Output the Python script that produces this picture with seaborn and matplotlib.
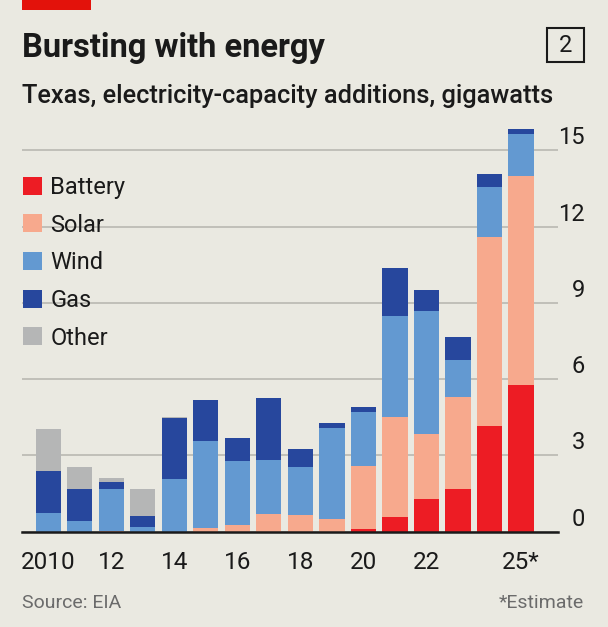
import matplotlib
matplotlib.use("Agg")
import matplotlib.pyplot as plt
from matplotlib.patches import Patch, Rectangle
from matplotlib.transforms import ScaledTranslation
import pandas as pd
import seaborn as sns

# Data (GW)
years = list(range(2010, 2026))
battery = [0, 0, 0, 0, 0, 0, 0, 0, 0, 0, 0.09, 0.56, 1.28, 1.66, 4.14, 5.76]
solar = [0, 0, 0.03, 0, 0, 0.13, 0.26, 0.68, 0.65, 0.50, 2.49, 3.96, 2.55, 3.65, 7.46, 8.22]
wind = [0.72, 0.43, 1.63, 0.19, 2.06, 3.42, 2.52, 2.12, 1.90, 3.59, 2.11, 3.96, 4.86, 1.44, 1.95, 1.67]
gas = [1.66, 1.24, 0.30, 0.41, 2.40, 1.62, 0.90, 2.44, 0.71, 0.18, 0.20, 1.88, 0.82, 0.92, 0.53, 0.20]
other = [1.66, 0.88, 0.15, 1.07, 0.06, 0, 0, 0, 0, 0, 0, 0, 0, 0, 0, 0]

sources = ["Battery", "Solar", "Wind", "Gas", "Other"]
colors = ["#ED1C24", "#F7A98D", "#6399D1", "#27479D", "#B5B6B6"]
xlabels = ["2010", "", "12", "", "14", "", "16", "", "18", "", "20", "", "22", "", "", "25*"]
yticks = [0, 3, 6, 9, 12, 15]

BG = "#EAE9E1"
INK = "#1A1A1A"

sns.set_style("white")
plt.rcParams["font.family"] = ["Roboto", "DejaVu Sans"]

df = pd.DataFrame({"year": years, "Battery": battery, "Solar": solar,
                   "Wind": wind, "Gas": gas, "Other": other})
# cumulative tops, so layers can be overdrawn from the tallest down
cum = df[sources].cumsum(axis=1)
cum["year"] = years

W, H = 608, 627
fig = plt.figure(figsize=(W / 100, H / 100), dpi=100, facecolor=BG)
ax = fig.add_axes([22 / W, 1 - 531.5 / H, (558 - 22) / W, (531.5 - 125) / H])
ax.set_facecolor(BG)

for src, col in reversed(list(zip(sources, colors))):
    sns.barplot(data=cum, x="year", y=src, color=col, native_scale=True,
                width=0.8, saturation=1, linewidth=0, errorbar=None,
                ax=ax, zorder=2)

ax.set_xlim(2010 - 0.83, 2026.17)
ax.set_ylim(0, 16)
ax.set_xlabel("")
ax.set_ylabel("")

# axes styling
for s in ["top", "left", "right"]:
    ax.spines[s].set_visible(False)
ax.spines["bottom"].set_color(INK)
ax.spines["bottom"].set_linewidth(1.8)
ax.spines["bottom"].set_zorder(3)

ax.set_xticks(years)
ax.set_xticklabels(xlabels)
ax.tick_params(axis="x", length=6, width=1.3, color=INK, pad=8,
               labelsize=17.5, labelcolor=INK, direction="out")

ax.set_yticks(yticks)
ax.set_yticklabels([])
ax.tick_params(axis="y", length=0)
ax.set_axisbelow(True)
ax.yaxis.grid(True, color="#B9B8B1", linewidth=1.2)
ax.xaxis.grid(False)

# y labels sit above the gridlines, right-aligned beyond the plot
off = ScaledTranslation(0, 6 / 100, fig.dpi_scale_trans)
for v in yticks:
    ax.text((585 - 22) / (558 - 22), v, str(v), transform=ax.get_yaxis_transform() + off,
            ha="right", va="baseline", fontsize=17, color=INK)

# legend
handles = [Patch(facecolor=c, edgecolor="none", label=s) for s, c in zip(sources, colors)]
leg = ax.legend(handles=handles, loc="upper left",
                bbox_to_anchor=(23 / W, 1 - 176 / H), bbox_transform=fig.transFigure,
                frameon=False, fontsize=17, handlelength=0.8, handleheight=0.8,
                handletextpad=0.35, labelspacing=0.62, borderaxespad=0, borderpad=0)
for t in leg.get_texts():
    t.set_color(INK)

# header
fig.patches.append(Rectangle((22 / W, 1 - 10 / H), 69 / W, 10 / H,
                             transform=fig.transFigure, color="#E3120B", lw=0))
fig.text(22 / W, 1 - 57 / H, "Bursting with energy", fontsize=23.5,
         fontweight="bold", color=INK, va="baseline")
fig.text(22 / W, 1 - 103 / H, "Texas, electricity-capacity additions, gigawatts",
         fontsize=18.3, fontweight="medium", color=INK, va="baseline")
fig.patches.append(Rectangle((547 / W, 1 - 62 / H), 37 / W, 34 / H,
                             transform=fig.transFigure, fill=False, lw=1.5, ec=INK))
fig.text(565.5 / W, 1 - 45 / H, "2", fontsize=17, color=INK, ha="center", va="center")

# footer
fig.text(22 / W, 1 - 608 / H, "Source: EIA", fontsize=14, color="#6B6B6B", va="baseline")
fig.text(584 / W, 1 - 608 / H, "*Estimate", fontsize=14, color="#6B6B6B",
         va="baseline", ha="right")

fig.savefig("out.png", dpi=100, facecolor=BG)
